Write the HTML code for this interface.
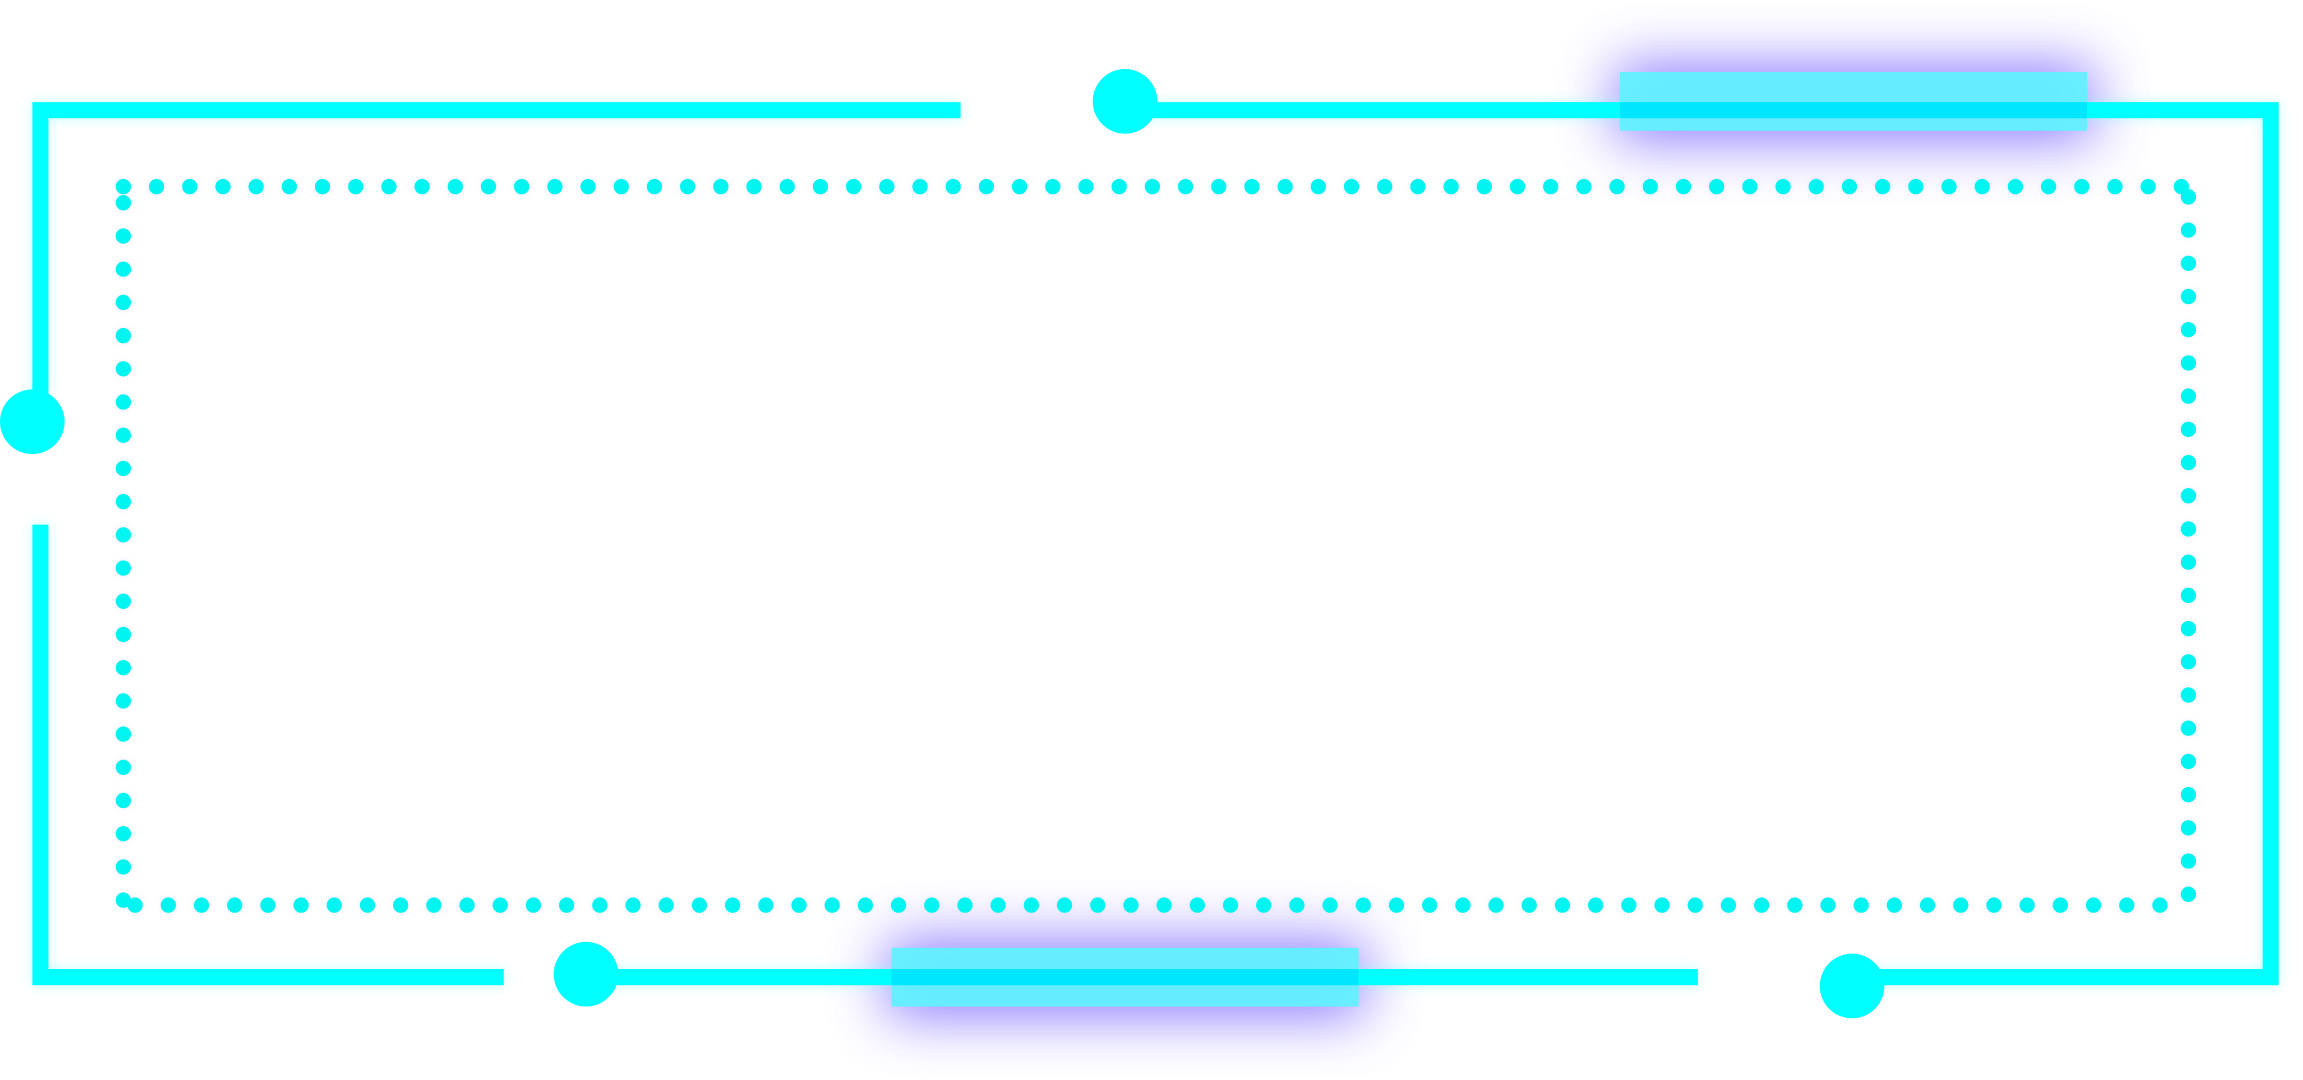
<!DOCTYPE html>
<html><head><meta charset="utf-8"><style>
html,body{margin:0;padding:0;background:#fff;width:2303px;height:1080px;overflow:hidden}
svg{display:block}
</style></head><body>
<svg width="2303" height="1080" viewBox="0 0 1568 735" preserveAspectRatio="none" xmlns="http://www.w3.org/2000/svg">
<defs>
<filter id="g" x="-20%" y="-20%" width="140%" height="140%"><feGaussianBlur stdDeviation="4" result="b"/><feFlood flood-color="#8ff" flood-opacity="0.5"/><feComposite in2="b" operator="in"/><feMerge><feMergeNode/><feMergeNode in="SourceGraphic"/></feMerge></filter>
<filter id="p" x="-40%" y="-150%" width="180%" height="400%"><feGaussianBlur stdDeviation="20"/></filter>
<filter id="d" x="-5%" y="-5%" width="110%" height="110%"><feGaussianBlur stdDeviation="2" result="b"/><feFlood flood-color="#e9d8ff" flood-opacity="0.6"/><feComposite in2="b" operator="in"/><feMerge><feMergeNode/><feMergeNode in="SourceGraphic"/></feMerge></filter>
</defs>
<g fill="#6a55ff" opacity="0.8" filter="url(#p)">
<rect x="1100" y="45" width="325" height="50"/>
<rect x="604" y="641" width="325" height="50"/>
</g>
<g fill="none" stroke="#00ffff" stroke-width="11" filter="url(#g)">
<polyline points="654,75 27.5,75 27.5,268"/>
<polyline points="27.5,357 27.5,665 343,665"/>
<line x1="399" y1="665" x2="1156" y2="665"/>
<polyline points="1261,665 1546,665 1546,75 766,75"/>
</g>
<g fill="#00ffff">
<circle cx="22" cy="287" r="22"/>
<circle cx="766" cy="69" r="22"/>
<circle cx="399" cy="663" r="22"/>
<circle cx="1261" cy="671" r="22"/>
</g>
<g fill="#62f0ff" opacity="0.95">
<rect x="1103" y="49" width="318" height="40"/>
<rect x="607" y="645" width="318" height="40"/>
</g>
<g stroke="#00e6ff" stroke-width="11">
<line x1="1103" y1="75" x2="1421" y2="75"/>
<line x1="607" y1="665" x2="925" y2="665"/>
</g>
<g fill="none" stroke="#00f5f0" stroke-width="10.5" stroke-linecap="round" stroke-dasharray="0 22.6" filter="url(#d)">
<line x1="84" y1="127" x2="1490" y2="127"/>
<line x1="84" y1="138" x2="84" y2="614"/>
<line x1="92" y1="616" x2="1492" y2="616"/>
<line x1="1490" y1="134" x2="1490" y2="612"/>
</g>
</svg>
</body></html>
